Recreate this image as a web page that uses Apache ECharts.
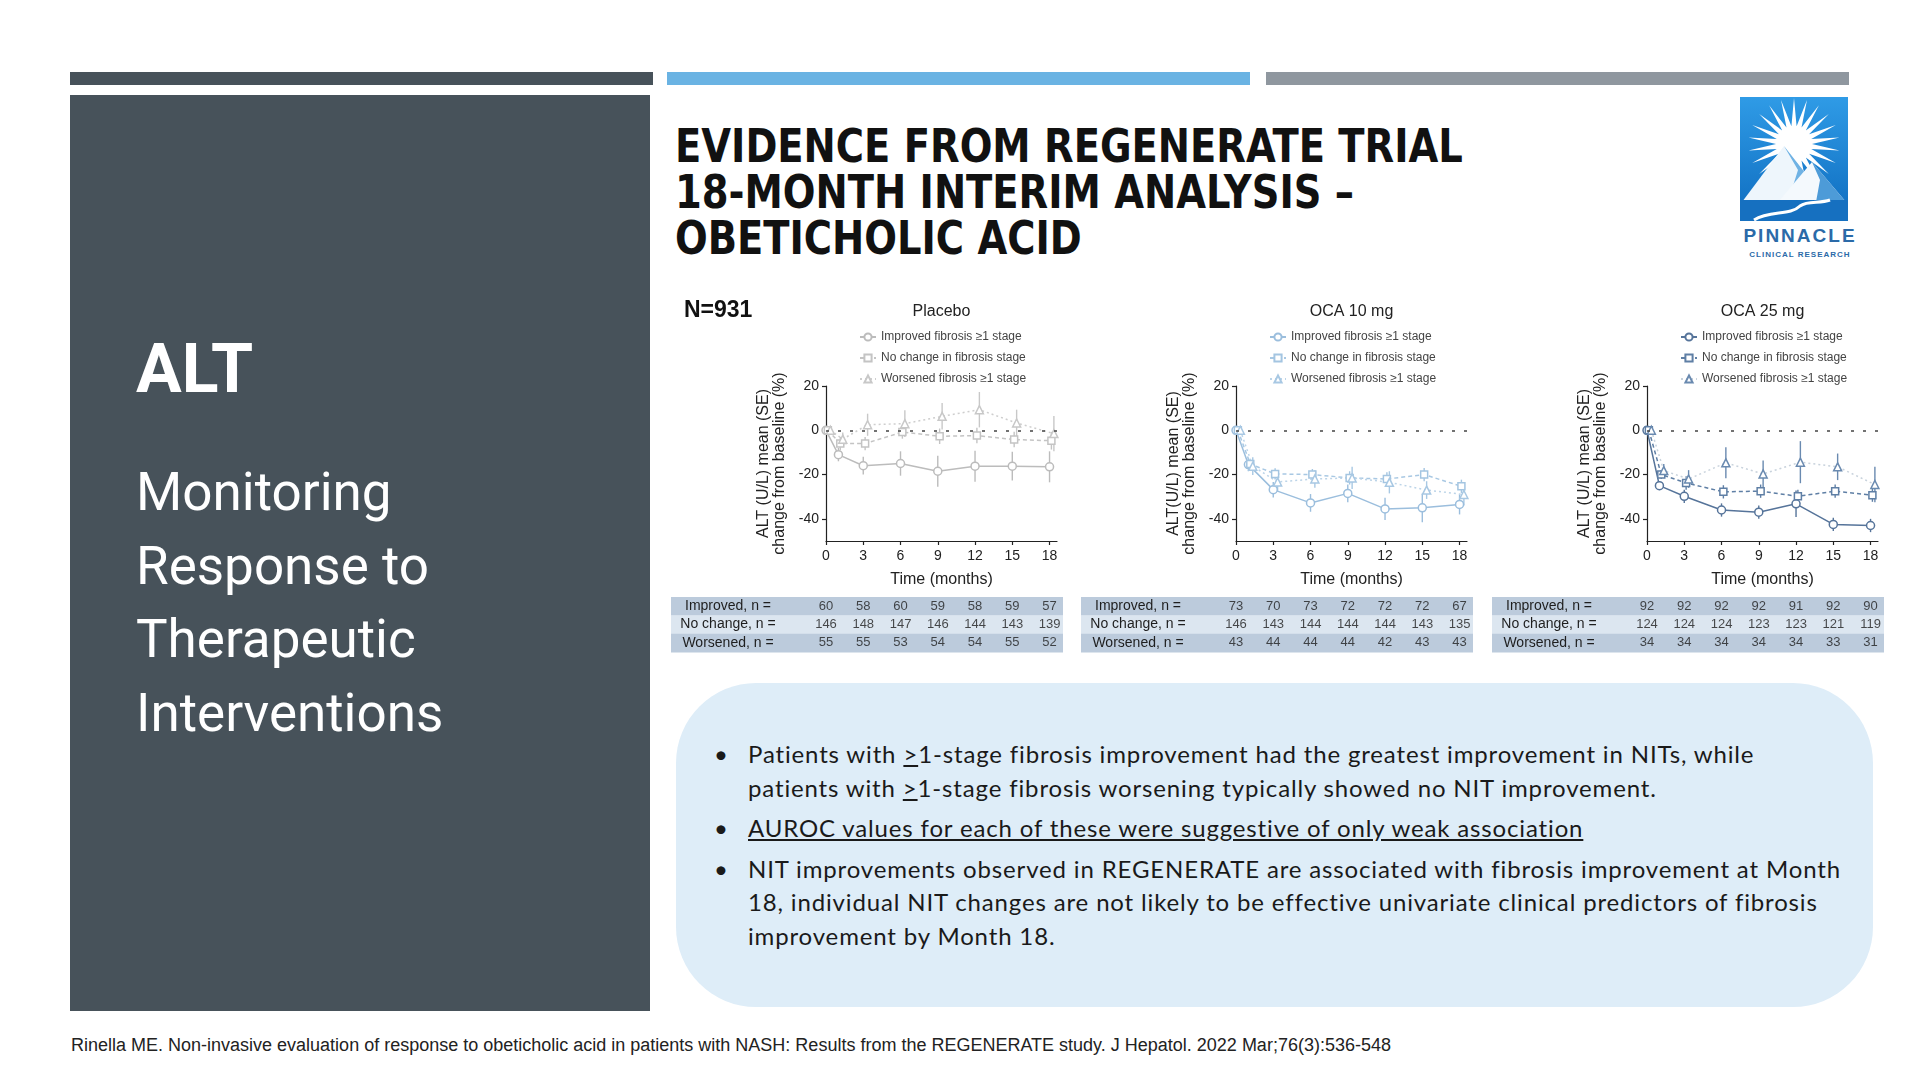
<!DOCTYPE html>
<html>
<head>
<meta charset="utf-8">
<script src="https://cdn.jsdelivr.net/npm/echarts@6/dist/echarts.min.js"></script>
<style>
  body { margin: 0; width: 1920px; height: 1081px; position: relative; background: #fff; overflow: hidden; font-family: "Liberation Sans", Arial, sans-serif; }
  .bar { position: absolute; top: 72px; height: 13px; }
  #side { position: absolute; left: 70px; top: 95px; width: 580px; height: 916px; background: #47525a; }
  #alt { position: absolute; left: 136px; top: 329px; font: 700 68px/80px Roboto, sans-serif; color: #fff; }
  #sub { position: absolute; left: 136px; top: 456px; font: 400 53px/73.5px Roboto, sans-serif; color: #fff; white-space: nowrap; }
  #title { position: absolute; left: 675px; top: 123px; font: 700 47px/46px "Liberation Sans Narrow", "DejaVu Sans Condensed", sans-serif; color: #111; white-space: nowrap; transform: scaleX(0.91); transform-origin: 0 0; }
  #box { position: absolute; left: 676px; top: 683px; width: 1197px; height: 324px; border-radius: 80px; background: #deedf8; }
  #bullets { position: absolute; left: 714px; top: 737px; font: 24px/33.5px Lato, sans-serif; letter-spacing: 0.85px; color: #1a1a1a; white-space: nowrap; }
  .b { position: relative; padding-left: 34px; margin-bottom: 7px; }
  .b::before { content: "\2022"; position: absolute; left: 0; top: 0; }
  #footer { position: absolute; left: 71px; top: 1035px; font: 18px "Liberation Sans", Arial, sans-serif; color: #222; white-space: nowrap; }
  #logo { position: absolute; left: 1720px; top: 92px; }
  #chart { position: absolute; left: 0; top: 0; width: 1920px; height: 1081px; }
</style>
</head>
<body>
<div class="bar" style="left:70px;width:583px;background:#47525a"></div>
<div class="bar" style="left:667px;width:583px;background:#6ab3e3"></div>
<div class="bar" style="left:1266px;width:583px;background:#8f979f"></div>

<div id="side"></div>
<div id="alt">ALT</div>
<div id="sub">Monitoring<br>Response to<br>Therapeutic<br>Interventions</div>

<div id="title">EVIDENCE FROM REGENERATE TRIAL<br>18-MONTH INTERIM ANALYSIS –<br>OBETICHOLIC ACID</div>

<svg id="logo" width="160" height="180" viewBox="0 0 160 180">
  <defs>
    <linearGradient id="sky" x1="0" y1="0" x2="0" y2="1">
      <stop offset="0" stop-color="#2f9be6"/>
      <stop offset="1" stop-color="#0e6cbf"/>
    </linearGradient>
  </defs>
  <rect x="20" y="5" width="108" height="124" fill="url(#sky)"/>
  <polygon id="rays" fill="#fff"/>
  <circle cx="74" cy="52" r="15" fill="#fff"/>
  <polygon points="22,110 64,54 108,110" fill="#eef6fc"/>
  <polygon points="64,54 78,78 68,110 108,110" fill="#6fb2e4"/>
  <polygon points="58,110 92,70 126,110" fill="#f4f9fd"/>
  <polygon points="92,70 100,88 96,110 126,110" fill="#4d9bd8"/>
  <rect x="20" y="108" width="108" height="21" fill="#1670c0"/>
  <path d="M34,128 C50,118 70,124 80,114 C88,108 100,112 110,108" stroke="#fff" stroke-width="3" fill="none"/>
  <text x="80" y="150" text-anchor="middle" font-family="Liberation Sans, Arial" font-weight="700" font-size="19" letter-spacing="2" fill="#2b6aa8">PINNACLE</text>
  <text x="80" y="165" text-anchor="middle" font-family="Liberation Sans, Arial" font-weight="700" font-size="8" letter-spacing="1" fill="#2b6aa8">CLINICAL RESEARCH</text>
</svg>

<div id="box"></div>
<div id="bullets">
  <div class="b">Patients with <u>&gt;</u>1-stage fibrosis improvement had the greatest improvement in NITs, while<br>patients with <u>&gt;</u>1-stage fibrosis worsening typically showed no NIT improvement.</div>
  <div class="b"><u>AUROC values for each of these were suggestive of only weak association</u></div>
  <div class="b">NIT improvements observed in REGENERATE are associated with fibrosis improvement at Month<br>18, individual NIT changes are not likely to be effective univariate clinical predictors of fibrosis<br>improvement by Month 18.</div>
</div>

<div id="footer">Rinella ME. Non-invasive evaluation of response to obeticholic acid in patients with NASH: Results from the REGENERATE study. J Hepatol. 2022 Mar;76(3):536-548</div>

<div id="chart"></div>

<script>
// 时间点（月）
const months = [0, 1, 3, 6, 9, 12, 15, 18];
const tableMonths = [0, 3, 6, 9, 12, 15, 18];
const xTicks = [0, 3, 6, 9, 12, 15, 18];
const yTicks = [-40, -20, 0, 20];
const rowLabels = ['Improved, n =', 'No change, n =', 'Worsened, n ='];

// Placebo
const placeboImproved = [0, -11, -16, -15, -18.5, -16.2, -16.2, -16.5];
const placeboImprovedSE = [0, 3, 4, 5.5, 7, 7, 6.5, 7];
const placeboNoChange = [0, -6, -6, -0.8, -2.7, -2.4, -4.2, -4.7];
const placeboNoChangeSE = [0, 3, 3, 3, 3.5, 3.5, 3.5, 4];
const placeboWorsened = [0, -4, 2.5, 3, 6.3, 9.3, 3.3, -1.5];
const placeboWorsenedSE = [0, 3, 5, 6, 6, 8, 6, 8];
const placeboImprovedN = [60, 58, 60, 59, 58, 59, 57];
const placeboNoChangeN = [146, 148, 147, 146, 144, 143, 139];
const placeboWorsenedN = [55, 55, 53, 54, 54, 55, 52];

// OCA 10 mg
const oca10Improved = [0, -15.5, -26.8, -32.8, -28.5, -35.5, -35, -33.5];
const oca10ImprovedSE = [0, 3, 3.5, 4, 4, 5, 6.5, 4.5];
const oca10NoChange = [0, -15.2, -19.7, -20, -21.5, -22, -20, -25.3];
const oca10NoChangeSE = [0, 2, 2.5, 2.5, 3, 3, 3, 3];
const oca10Worsened = [0, -16.2, -23.3, -22, -21.5, -23.5, -27, -29];
const oca10WorsenedSE = [0, 4, 4, 4, 5, 5, 4, 5];
const oca10ImprovedN = [73, 70, 73, 72, 72, 72, 67];
const oca10NoChangeN = [146, 143, 144, 144, 144, 143, 135];
const oca10WorsenedN = [43, 44, 44, 44, 42, 43, 43];

// OCA 25 mg
const oca25Improved = [0, -25, -29.8, -36, -37, -33.2, -42.5, -43];
const oca25ImprovedSE = [0, 2, 3, 3, 3, 6, 3, 3];
const oca25NoChange = [0, -20, -23.8, -27.8, -27.5, -29.8, -27.5, -29.3];
const oca25NoChangeSE = [0, 2, 3, 3, 3, 3, 3, 3];
const oca25Worsened = [0, -18.2, -22, -14.7, -19.7, -14.4, -16.5, -24.5];
const oca25WorsenedSE = [0, 3, 4, 7, 6, 9.5, 6, 8];
const oca25ImprovedN = [92, 92, 92, 92, 91, 92, 90];
const oca25NoChangeN = [124, 124, 124, 123, 123, 121, 119];
const oca25WorsenedN = [34, 34, 34, 34, 34, 33, 31];

// 三组的样式（符号、线型、横向错开）
const groups = [
  { key: 'improved', label: 'Improved fibrosis \u22651 stage', symbol: 'circle', size: 8, dash: 'solid', dodge: 0 },
  { key: 'noChange', label: 'No change in fibrosis stage', symbol: 'rect', size: 7, dash: [4, 3], dodge: 0.15 },
  { key: 'worsened', label: 'Worsened fibrosis \u22651 stage', symbol: 'triangle', size: 8, dash: [2, 3], dodge: 0.35 }
];

const panels = [
  {
    name: 'Placebo', left: 826, yName: 'ALT (U/L) mean (SE)\nchange from baseline (%)',
    mean: { improved: placeboImproved, noChange: placeboNoChange, worsened: placeboWorsened },
    se: { improved: placeboImprovedSE, noChange: placeboNoChangeSE, worsened: placeboWorsenedSE },
    n: [placeboImprovedN, placeboNoChangeN, placeboWorsenedN],
    line: { improved: '#bcbcbc', noChange: '#c4c4c4', worsened: '#cecece' },
    mark: { improved: '#bcbcbc', noChange: '#c4c4c4', worsened: '#c8c8c8' }
  },
  {
    name: 'OCA 10 mg', left: 1236, yName: 'ALT(U/L) mean (SE)\nchange from baseline (%)',
    mean: { improved: oca10Improved, noChange: oca10NoChange, worsened: oca10Worsened },
    se: { improved: oca10ImprovedSE, noChange: oca10NoChangeSE, worsened: oca10WorsenedSE },
    n: [oca10ImprovedN, oca10NoChangeN, oca10WorsenedN],
    line: { improved: '#9bbedd', noChange: '#a8c8e3', worsened: '#bcd4e8' },
    mark: { improved: '#9bbedd', noChange: '#a4c5e1', worsened: '#a8c8e3' }
  },
  {
    name: 'OCA 25 mg', left: 1647, yName: 'ALT (U/L) mean (SE)\nchange from baseline (%)',
    mean: { improved: oca25Improved, noChange: oca25NoChange, worsened: oca25Worsened },
    se: { improved: oca25ImprovedSE, noChange: oca25NoChangeSE, worsened: oca25WorsenedSE },
    n: [oca25ImprovedN, oca25NoChangeN, oca25WorsenedN],
    line: { improved: '#56749a', noChange: '#5f7fa5', worsened: '#c8d2dc' },
    mark: { improved: '#56749a', noChange: '#5f7fa5', worsened: '#6a8ab0' }
  }
];

const GRID_TOP = 386, GRID_H = 155, GRID_W = 231;
const TABLE_TOP = 597, TABLE_H = 55;
const FONT = '"Liberation Sans", Arial, sans-serif';
const axisColor = '#222';

// 小logo的光芒
(function drawRays() {
  const cx = 74, cy = 52, n = 22, ro = 46, ri = 18;
  const pts = [];
  for (let i = 0; i < n * 2; i++) {
    const r = i % 2 === 0 ? ro : ri;
    const a = Math.PI * i / n - Math.PI / 2;
    pts.push((cx + r * Math.cos(a)).toFixed(1) + ',' + (cy + r * Math.sin(a)).toFixed(1));
  }
  document.getElementById('rays').setAttribute('points', pts.join(' '));
})();

function errorBarRenderer(color) {
  return function (params, api) {
    const x = api.value(0), m = api.value(1), s = api.value(2);
    if (!s) return null;
    const top = api.coord([x, m + s]);
    const bot = api.coord([x, m - s]);
    return {
      type: 'line',
      shape: { x1: top[0], y1: top[1], x2: bot[0], y2: bot[1] },
      style: { stroke: color, lineWidth: 1.4 }
    };
  };
}

const grid = [], xAxis = [], yAxis = [], series = [], legend = [], graphic = [];
const title = [{
  text: 'N=931', left: 684, top: 299, padding: 0,
  textStyle: { fontSize: 23, fontWeight: 'bold', color: '#111', fontFamily: FONT }
}];

panels.forEach((p, i) => {
  grid.push({ left: p.left, top: GRID_TOP, width: GRID_W, height: GRID_H });

  xAxis.push({
    type: 'value', gridIndex: i, min: 0, max: 18.6,
    axisLine: { show: true, onZero: false, lineStyle: { color: axisColor, width: 1.2 } },
    axisTick: { show: true, length: 4, customValues: xTicks, lineStyle: { color: axisColor, width: 1.2 } },
    axisLabel: { customValues: xTicks, fontSize: 14, color: axisColor, margin: 8, fontFamily: FONT },
    splitLine: { show: false },
    name: 'Time (months)', nameLocation: 'middle', nameGap: 31,
    nameTextStyle: { fontSize: 16, color: axisColor, fontFamily: FONT }
  });

  yAxis.push({
    type: 'value', gridIndex: i, min: -50, max: 20,
    axisLine: { show: true, onZero: false, lineStyle: { color: axisColor, width: 1.2 } },
    axisTick: { show: true, length: 4, customValues: yTicks, lineStyle: { color: axisColor, width: 1.2 } },
    axisLabel: { customValues: yTicks, fontSize: 14, color: axisColor, margin: 7, fontFamily: FONT },
    splitLine: { show: false },
    name: p.yName, nameLocation: 'middle', nameGap: 38, nameRotate: 90,
    nameTextStyle: { fontSize: 16, lineHeight: 16, color: axisColor, fontFamily: FONT }
  });

  title.push({
    text: p.name, left: p.left + GRID_W / 2, top: 304, textAlign: 'center', padding: 0,
    textStyle: { fontSize: 16, fontWeight: 'normal', color: axisColor, fontFamily: FONT }
  });

  legend.push({
    data: groups.map(g => p.name + '|' + g.label),
    orient: 'vertical', left: p.left + 28, top: 325,
    itemWidth: 16, itemHeight: 9, itemGap: 7, selectedMode: false,
    formatter: name => name.split('|')[1],
    textStyle: { fontSize: 12, color: '#444', lineHeight: 14, fontFamily: FONT }
  });

  groups.forEach((g, gi) => {
    const lineColor = p.line[g.key];
    const markColor = p.mark[g.key];
    const s = {
      type: 'line', name: p.name + '|' + g.label,
      xAxisIndex: i, yAxisIndex: i,
      data: months.map((m, k) => [m + g.dodge, p.mean[g.key][k]]),
      symbol: g.symbol, symbolSize: g.size, showAllSymbol: true,
      lineStyle: { color: lineColor, width: 1.5, type: g.dash },
      itemStyle: { color: '#fff', borderColor: markColor, borderWidth: 1.5 },
      z: 4, animation: false, silent: true
    };
    if (gi === 0) {
      s.markLine = {
        silent: true, symbol: 'none', animation: false,
        label: { show: false },
        lineStyle: { color: '#444', width: 1.6, type: [3, 9] },
        data: [{ yAxis: 0 }]
      };
    }
    series.push(s);
    series.push({
      type: 'custom', name: p.name + '|' + g.label + ' SE',
      xAxisIndex: i, yAxisIndex: i,
      data: months.map((m, k) => [m + g.dodge, p.mean[g.key][k], p.se[g.key][k]]),
      encode: { x: 0, y: 1 },
      renderItem: errorBarRenderer(markColor),
      z: 3, silent: true, animation: false
    });
  });
});

// 表格（n 值），与上方图的横轴对齐
panels.forEach((p, i) => {
  const gi = 3 + i;
  grid.push({ left: p.left, top: TABLE_TOP, width: GRID_W, height: TABLE_H });
  xAxis.push({ type: 'value', gridIndex: gi, min: 0, max: 18.6, show: false });
  yAxis.push({
    type: 'category', gridIndex: gi, data: rowLabels, inverse: true,
    axisLine: { show: false }, axisTick: { show: false }, splitLine: { show: false },
    axisLabel: { align: 'center', margin: 98, fontSize: 14, color: '#1e1e1e', fontFamily: FONT }
  });
  rowLabels.forEach((row, r) => {
    graphic.push({
      type: 'rect', z: -10,
      shape: { x: p.left - 155, y: TABLE_TOP + r * TABLE_H / 3, width: GRID_W + 161, height: TABLE_H / 3 + 0.5 },
      style: { fill: r === 1 ? '#dce6f0' : '#bccbdc' }
    });
    series.push({
      type: 'scatter', xAxisIndex: gi, yAxisIndex: gi,
      data: tableMonths.map((m, k) => [m, row, p.n[r][k]]),
      symbolSize: 1, itemStyle: { color: 'transparent' },
      label: {
        show: true, position: 'inside', formatter: d => d.value[2],
        fontSize: 13, color: '#1e1e1e', fontFamily: FONT
      },
      silent: true, animation: false, z: 5
    });
  });
});

const chart = echarts.init(document.getElementById('chart'), null, { renderer: 'canvas' });
chart.setOption({
  animation: false,
  title, legend, grid, xAxis, yAxis, series, graphic
});
</script>
</body>
</html>
